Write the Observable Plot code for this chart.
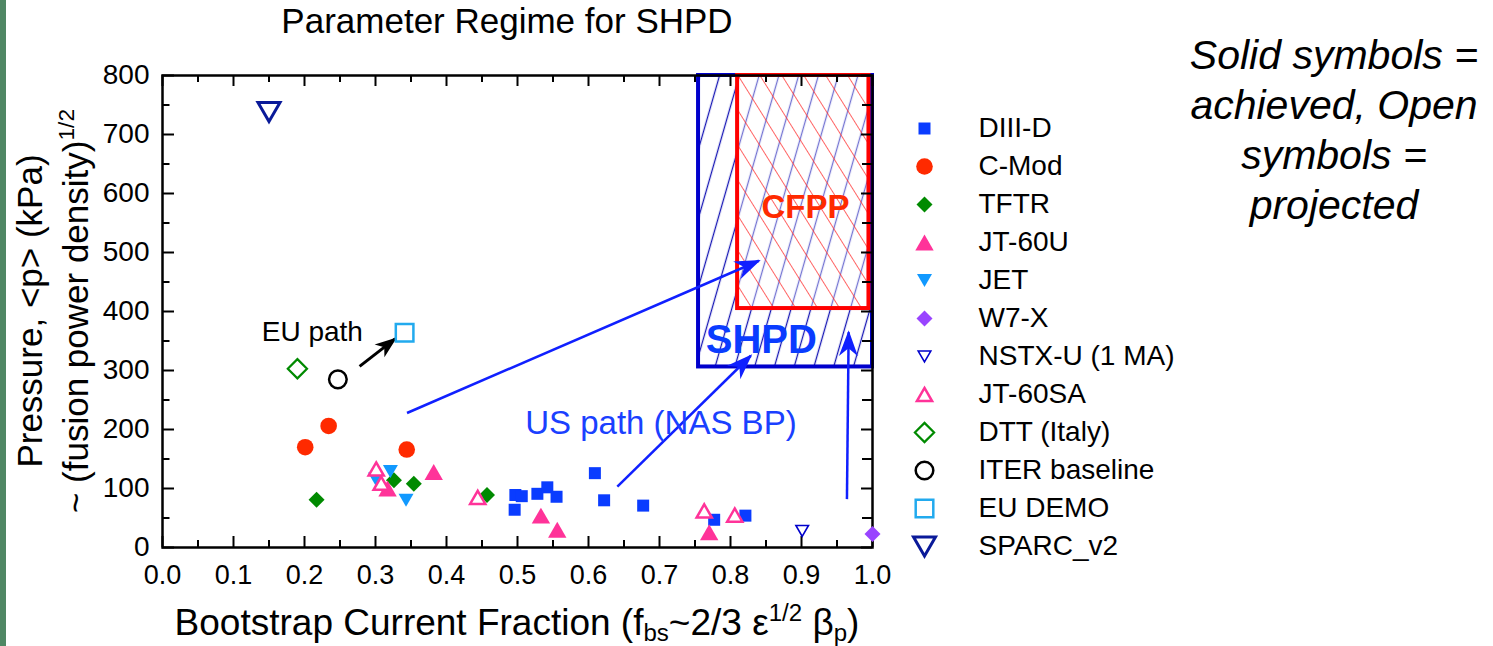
<!DOCTYPE html>
<html>
<head>
<meta charset="utf-8">
<script src="https://cdn.jsdelivr.net/npm/d3@7"></script>
<script src="https://cdn.jsdelivr.net/npm/@observablehq/plot@0.6"></script>
<style>
  body { margin: 0; background: #fff; font-family: "Liberation Sans", Arial, Helvetica, sans-serif; }
  #page { position: relative; width: 1493px; height: 646px; overflow: hidden; background: #fff; }
  #edge { position: absolute; left: 0; top: 0; width: 6px; height: 646px; background: #4f8764; }
  #chart { position: absolute; left: 0; top: 0; }
  #legend { position: absolute; left: 880px; top: 100px; }
  #title { position: absolute; left: 207px; width: 600px; top: 1px; text-align: center; font-size: 35px; line-height: 40px; color: #000; }
  #ylabel { position: absolute; left: -227px; top: 265px; width: 560px; height: 92px; text-align: center;
            font-size: 35px; line-height: 46px; transform: rotate(-90deg); transform-origin: 50% 50%; white-space: nowrap; }
  #xlabel { position: absolute; left: 0; width: 1034px; top: 601px; text-align: center; font-size: 37px; line-height: 44px; white-space: nowrap; }
  #note { position: absolute; left: 1134px; width: 400px; top: 30px; text-align: center; font-size: 41px; line-height: 50px; font-style: italic; }
  sup, sub { font-size: 0.65em; line-height: 0; }
  sup { vertical-align: 0.6em; }
  sub { vertical-align: -0.25em; }
</style>
</head>
<body>
<div id="page">
  <div id="chart"></div>
  <div id="legend"></div>
  <div id="edge"></div>
  <div id="title">Parameter Regime for SHPD</div>
  <div id="ylabel">Pressure, &lt;p&gt; (kPa)<br>~ (fusion power density)<sup>1/2</sup></div>
  <div id="xlabel">Bootstrap Current Fraction (f<sub>bs</sub>~2/3 ε<sup>1/2</sup> β<sub>p</sub>)</div>
  <div id="note">Solid symbols =<br>achieved, Open<br>symbols =<br>projected</div>
</div>
<script>
// Bootstrap current fraction vs. pressure, one [fbs, <p>] pair per shot / design
const DIIID  = [[0.497, 89], [0.506, 87], [0.496, 64], [0.528, 91], [0.542, 102], [0.555, 86],
                [0.609, 126], [0.622, 80], [0.677, 71], [0.777, 47], [0.821, 54]];
const CMod   = [[0.201, 170], [0.234, 206], [0.344, 166]];
const TFTR   = [[0.217, 81], [0.326, 114], [0.354, 108], [0.457, 89]];
const JT60U  = [[0.317, 100], [0.382, 128], [0.533, 54], [0.556, 30], [0.770, 26]];
const JET    = [[0.321, 129], [0.300, 116], [0.343, 80]];
const W7X    = [[1.0, 23]];
const NSTXU  = [[0.901, 28]];
const JT60SA = [[0.301, 133], [0.308, 109], [0.444, 85], [0.763, 62], [0.806, 55]];
const DTT    = [[0.190, 303]];
const ITER   = [[0.247, 285]];
const EUDEMO = [[0.341, 364]];
const SPARC  = [[0.150, 738]];

// Target regimes (fbs range, pressure range)
const regimes = [
  {name: "SHPD", x1: 0.755, x2: 1.0, y1: 306, y2: 800},
  {name: "CFPP", x1: 0.81, x2: 0.995, y1: 405, y2: 800}
];

// Development paths
const euPath = [{x1: 0.2776, y1: 307, x2: 0.3279, y2: 354}];
const usPaths = [
  {x1: 0.3444, y1: 228, x2: 0.840, y2: 486},
  {x1: 0.6406, y1: 103, x2: 0.8286, y2: 325},
  {x1: 0.964, y1: 82, x2: 0.9664, y2: 365}
];

// Axis ticks
const xMajor = [0, 0.1, 0.2, 0.3, 0.4, 0.5, 0.6, 0.7, 0.8, 0.9, 1.0];
const xMinor = [0.05, 0.15, 0.25, 0.35, 0.45, 0.55, 0.65, 0.75, 0.85, 0.95];
const yMajor = [0, 100, 200, 300, 400, 500, 600, 700, 800];
const yMinor = [50, 150, 250, 350, 450, 550, 650, 750];

// Marker shapes; r is the half-width of the drawn symbol
const half = s => Math.sqrt(s / Math.PI);
const shapes = {
  square:  {draw(c, s) { const h = half(s); c.rect(-h, -h, 2 * h, 2 * h); }},
  circle:  {draw(c, s) { const h = half(s); c.moveTo(h, 0); c.arc(0, 0, h, 0, 2 * Math.PI); }},
  diamond: {draw(c, s) { const h = half(s); c.moveTo(0, -h); c.lineTo(h, 0); c.lineTo(0, h); c.lineTo(-h, 0); c.closePath(); }},
  up:      {draw(c, s) { const h = half(s), k = 0.866 * h; c.moveTo(0, -k); c.lineTo(h, k); c.lineTo(-h, k); c.closePath(); }},
  down:    {draw(c, s) { const h = half(s), k = 0.866 * h; c.moveTo(0, k); c.lineTo(h, -k); c.lineTo(-h, -k); c.closePath(); }}
};

const series = [
  {name: "DIII-D",        data: DIIID,  shape: "square",  color: "#0a3cff", filled: true,  r: 6},
  {name: "C-Mod",         data: CMod,   shape: "circle",  color: "#ff2a00", filled: true,  r: 8.3},
  {name: "TFTR",          data: TFTR,   shape: "diamond", color: "#008a00", filled: true,  r: 8},
  {name: "JT-60U",        data: JT60U,  shape: "up",      color: "#ff3399", filled: true,  r: 9.2},
  {name: "JET",           data: JET,    shape: "down",    color: "#1199ff", filled: true,  r: 7.5},
  {name: "W7-X",          data: W7X,    shape: "diamond", color: "#9944ff", filled: true,  r: 8},
  {name: "NSTX-U (1 MA)", data: NSTXU,  shape: "down",    color: "#0000cc", filled: false, r: 6.3, sw: 1.6},
  {name: "JT-60SA",       data: JT60SA, shape: "up",      color: "#ff3399", filled: false, r: 7.6, sw: 2.5},
  {name: "DTT (Italy)",   data: DTT,    shape: "diamond", color: "#008a00", filled: false, r: 9.6, sw: 2.2},
  {name: "ITER baseline", data: ITER,   shape: "circle",  color: "#000000", filled: false, r: 8.8, sw: 2.5},
  {name: "EU DEMO",       data: EUDEMO, shape: "square",  color: "#22aaee", filled: false, r: 8.8, sw: 2.5},
  {name: "SPARC_v2",      data: SPARC,  shape: "down",    color: "#0a1a99", filled: false, r: 11, sw: 3}
];

const dotStyle = s => ({
  symbol: shapes[s.shape], r: s.r,
  fill: s.filled ? s.color : "white",
  stroke: s.filled ? "none" : s.color,
  strokeWidth: s.filled ? 0 : s.sw
});

const W = 900, H = 646, ML = 162, MR = 28, MT = 75, MB = 99;
const FW = W - ML - MR, FH = H - MT - MB;
const font = "'Liberation Sans', Arial, Helvetica, sans-serif";

const chart = Plot.plot({
  width: W, height: H,
  marginLeft: ML, marginRight: MR, marginTop: MT, marginBottom: MB,
  style: {fontFamily: font, fontSize: "28px", color: "#000", background: "transparent", overflow: "visible"},
  x: {domain: [0, 1], label: null},
  y: {domain: [0, 800], label: null},
  marks: [
    // regimes
    Plot.rect(regimes.slice(0, 1), {x1: "x1", x2: "x2", y1: "y1", y2: "y2", fill: "url(#shpd-hatch)", stroke: "#0000cc", strokeWidth: 4}),
    Plot.rect(regimes.slice(1), {x1: "x1", x2: "x2", y1: "y1", y2: "y2", fill: "url(#cfpp-hatch)", stroke: "#ff0000", strokeWidth: 4}),
    // axes: labels
    Plot.axisX(xMajor, {anchor: "bottom", tickSize: 0, tickPadding: 17, tickFormat: d => d.toFixed(1), fontSize: 27, label: null}),
    Plot.axisY(yMajor, {anchor: "left", tickSize: 0, tickPadding: 13, tickFormat: d => String(d), fontSize: 28, label: null}),
    // inward ticks on all four sides
    Plot.ruleX(xMajor, {insetTop: FH - 11, stroke: "black", strokeWidth: 2}),
    Plot.ruleX(xMinor, {insetTop: FH - 7, stroke: "black", strokeWidth: 2}),
    Plot.ruleX(xMajor, {insetBottom: FH - 11, stroke: "black", strokeWidth: 2}),
    Plot.ruleX(xMinor, {insetBottom: FH - 7, stroke: "black", strokeWidth: 2}),
    Plot.ruleY(yMajor, {insetRight: FW - 12, stroke: "black", strokeWidth: 2}),
    Plot.ruleY(yMinor, {insetRight: FW - 7.5, stroke: "black", strokeWidth: 2}),
    Plot.ruleY(yMajor, {insetLeft: FW - 11, stroke: "black", strokeWidth: 2}),
    Plot.ruleY(yMinor, {insetLeft: FW - 10, stroke: "black", strokeWidth: 2}),
    Plot.frame({stroke: "black", strokeWidth: 2.5}),
    // paths
    Plot.link(euPath, {x1: "x1", y1: "y1", x2: "x2", y2: "y2", stroke: "black", strokeWidth: 3}),
    Plot.link(usPaths, {x1: "x1", y1: "y1", x2: "x2", y2: "y2", stroke: "#1020ff", strokeWidth: 2.5}),
    // annotations
    Plot.text(["EU path"], {x: () => 0.211, y: () => 366, text: d => d, fontSize: 28, fill: "black"}),
    Plot.text(["US path (NAS BP)"], {x: () => 0.702, y: () => 210, text: d => d, fontSize: 33, fill: "#1a40ff"}),
    Plot.text(["SHPD"], {x: () => 0.8434, y: () => 351, text: d => d, fontSize: 40, fontWeight: "bold", fill: "#0a3cff"}),
    Plot.text(["CFPP"], {x: () => 0.9055, y: () => 577, text: d => d, fontSize: 33, fontWeight: "bold", fill: "#ff2a00"}),
    // devices
    ...series.map(s => Plot.dot(s.data, {x: d => d[0], y: d => d[1], ...dotStyle(s)}))
  ]
});

// hatch fills and filled arrowheads
const defs = d3.select(chart).insert("defs", ":first-child");
const blueHatch = defs.append("pattern").attr("id", "shpd-hatch").attr("patternUnits", "userSpaceOnUse")
  .attr("width", 19).attr("height", 40).attr("patternTransform", "rotate(16)");
blueHatch.append("line").attr("x1", 9.5).attr("x2", 9.5).attr("y1", -1).attr("y2", 41)
  .attr("stroke", "#1414b4").attr("stroke-width", 1.3);
const redHatch = defs.append("pattern").attr("id", "cfpp-hatch").attr("patternUnits", "userSpaceOnUse")
  .attr("width", 18.6).attr("height", 40).attr("patternTransform", "rotate(-32)");
redHatch.append("rect").attr("width", 18.6).attr("height", 40).attr("fill", "white").attr("fill-opacity", 0.4);
redHatch.append("line").attr("x1", 9.3).attr("x2", 9.3).attr("y1", -1).attr("y2", 41)
  .attr("stroke", "#ff3030").attr("stroke-opacity", 0.75).attr("stroke-width", 1);

function arrowHead(id, color, len, hw, notch) {
  defs.append("marker").attr("id", id).attr("markerUnits", "userSpaceOnUse").attr("orient", "auto")
    .attr("viewBox", `${-len - 2} ${-hw - 2} ${len + 6} ${2 * hw + 4}`)
    .attr("markerWidth", len + 6).attr("markerHeight", 2 * hw + 4).attr("refX", 0).attr("refY", 0)
    .append("path").attr("d", `M2,0L${-len},${-hw}L${-len + notch},0L${-len},${hw}Z`).attr("fill", color);
}
arrowHead("head-black", "black", 20, 8, 6);
arrowHead("head-blue", "#1020ff", 24, 9.5, 8);

const linkGroups = d3.select(chart).selectAll('g[aria-label="link"]').nodes();
if (linkGroups[0]) d3.select(linkGroups[0]).selectAll("path").attr("marker-end", "url(#head-black)");
if (linkGroups[1]) d3.select(linkGroups[1]).selectAll("path").attr("marker-end", "url(#head-blue)");

document.getElementById("chart").appendChild(chart);

// legend
const names = series.map(s => s.name);
const legend = Plot.plot({
  width: 320, height: 470, margin: 0,
  style: {fontFamily: font, fontSize: "28px", color: "#000", background: "transparent", overflow: "visible"},
  x: {domain: [0, 1], range: [44, 300], axis: null},
  y: {type: "point", domain: names, range: [24, 450], padding: 0, axis: null},
  marks: [
    ...series.map(s => Plot.dot([s.name], {x: () => 0, y: d => d, ...dotStyle(s)})),
    Plot.text(names, {x: () => 0, y: d => d, text: d => d, dx: 54, textAnchor: "start", fontSize: 28, fill: "black"})
  ]
});
document.getElementById("legend").appendChild(legend);
</script>
</body>
</html>
